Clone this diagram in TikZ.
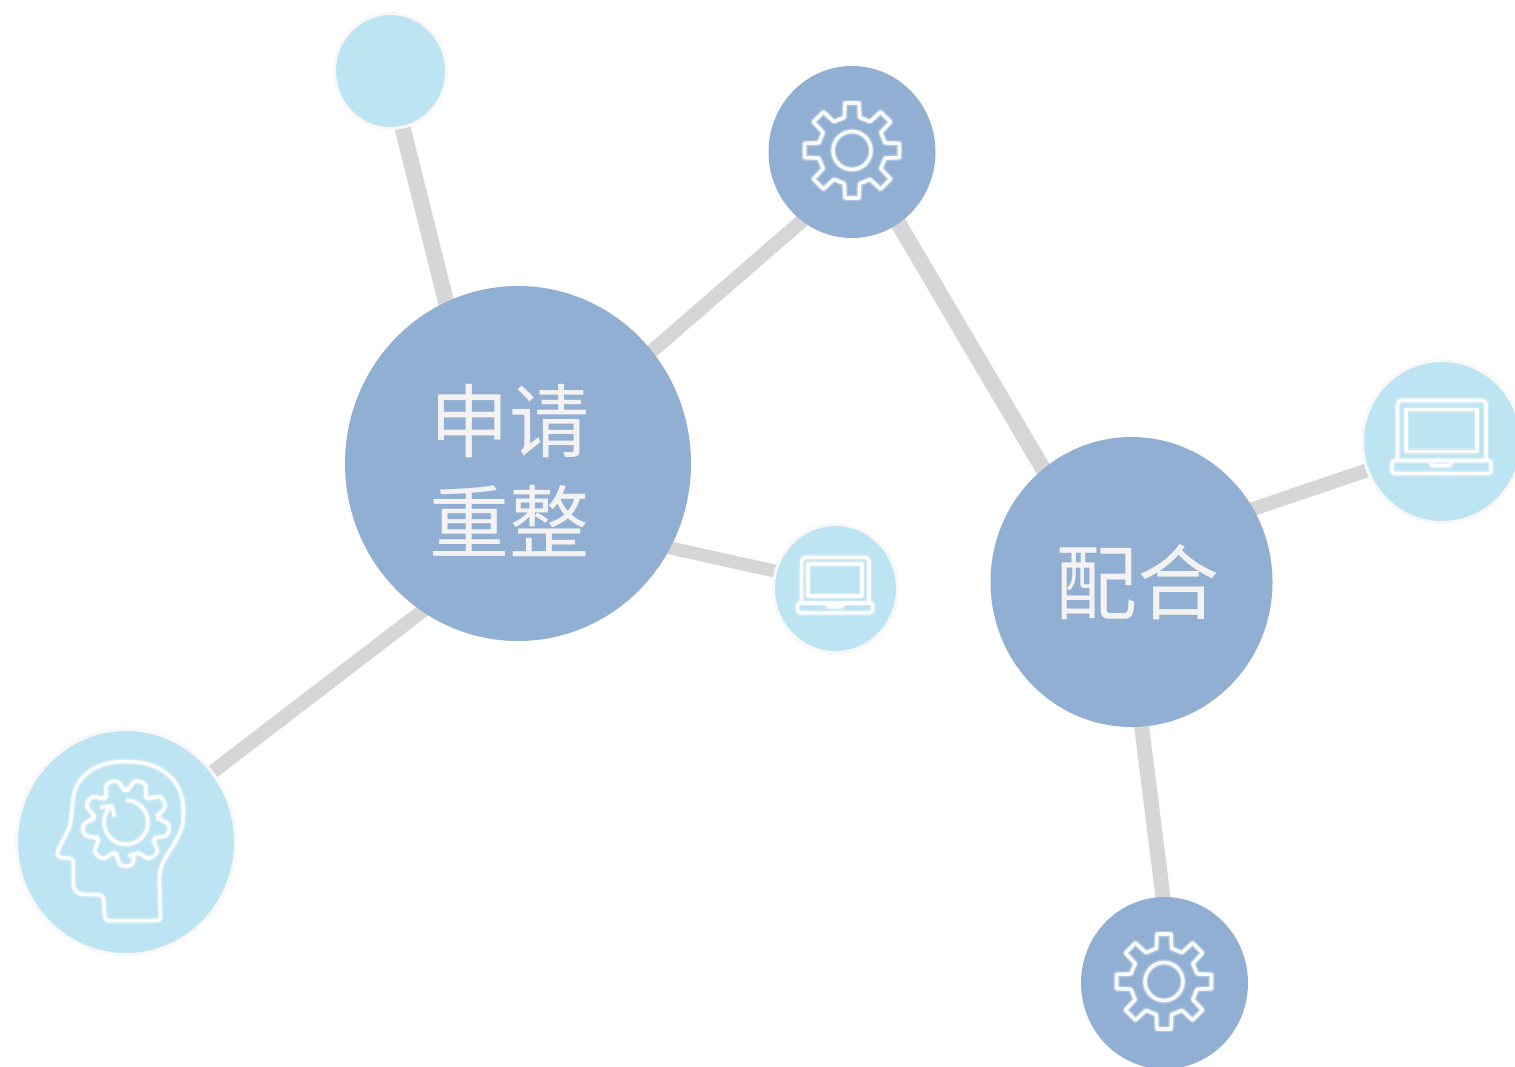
\documentclass[tikz,border=0pt]{standalone}
\usepackage{fontspec}
\newfontfamily\cjk{Noto Sans CJK SC}
\usetikzlibrary{shapes.geometric,backgrounds}
\definecolor{deepblue}{HTML}{90AFD3}
\definecolor{paleblue}{HTML}{BDE4F2}
\definecolor{linkgrey}{HTML}{D6D6D6}
\definecolor{halo}{HTML}{F8F8F8}
\definecolor{labeltext}{HTML}{F4F2F2}
\tikzset{
  x=1pt,y=-1pt,
  bigdot/.style={ellipse,inner sep=0pt,fill=deepblue},
  smalldot/.style={ellipse,inner sep=0pt,fill=paleblue,draw=halo,line width=3pt},
  link/.style={draw=linkgrey,line width=14pt,shorten >=-7pt,shorten <=-5pt},
  iconline/.style={draw=white,line width=3.6pt,line join=round,opacity=.92,
    preaction={draw=white,line width=6.5pt,line join=round,opacity=.25}},
  caption/.style={text=labeltext,align=center,inner sep=0pt},
  gearicon/.pic={
    \draw[iconline] (-13:34) \foreach \a in {0,45,...,315}{ -- (\a-13:34) -- (\a-8.5:48) -- (\a+8.5:48) -- (\a+13:34)} -- cycle;
    \draw[iconline] (0,0) circle[radius=19];
  },
  laptopicon/.pic={
    \draw[iconline,rounded corners=4pt] (-44.5,18) -- (-44.5,-41) -- (44,-41) -- (44,18);
    \draw[iconline] (-36,-32) rectangle (35,10);
    \draw[iconline] (-12,19) -- (-10,24) -- (8,24) -- (10,19);
    \draw[iconline,rounded corners=3pt] (-50,19) -- (49,19) -- (49,32) -- (-50,32) -- cycle;
  }
}
\begin{document}
\begin{tikzpicture}
\useasboundingbox (0,0) rectangle (1515,1066);

\node[bigdot,minimum width=346pt,minimum height=355pt] (apply) at (518,463.5) {};
\node[bigdot,minimum width=282pt,minimum height=290pt] (match) at (1131.5,582) {};
\node[bigdot,minimum width=167pt,minimum height=172pt] (gearA) at (852,152) {};
\node[bigdot,minimum width=167pt,minimum height=172pt] (gearB) at (1164.5,983) {};
\node[smalldot,minimum width=112pt,minimum height=115pt] (top) at (390.5,71) {};
\node[smalldot,minimum width=124pt,minimum height=128pt] (lapA) at (835.5,588.5) {};
\node[smalldot,minimum width=159pt,minimum height=162pt] (lapB) at (1442,441.5) {};
\node[smalldot,minimum width=219pt,minimum height=225pt] (head) at (126,842) {};

\begin{scope}[on background layer]
\fill[white] (0,0) rectangle (1515,1066);
\draw[link,line width=16pt] (apply.114) -- (top.-78);
\draw[link] (apply.40) -- (gearA.234);
\draw[link,line width=16pt] (gearA.-57) -- (match.128);
\draw[link] (match.31) -- (lapB.201);
\draw[link,line width=15pt] (match.-86) -- (gearB.91);
\draw[link,line width=13pt] (apply.-29) -- (lapA.164);
\draw[link] (apply.237) -- (head.39);
\end{scope}

\node[caption,font=\cjk\fontsize{80pt}{101pt}\selectfont] (applytext) at (509,471) {申请\\重整};
\node[caption,font=\cjk\fontsize{82pt}{90pt}\selectfont] (matchtext) at (1137,582) {配合};

\pic at (852,150.5) {gearicon};
\pic at (1164,981.5) {gearicon};
\pic at (1442,441.5) {laptopicon};
\pic[scale=.76] at (835.5,588.5) {laptopicon};

\begin{scope}[shift={(20,730)},scale=1/3]
\draw[iconline,rounded corners=4pt] (255,572) -- (250,495) -- (175,492) -- (160,475) -- (160,385) -- (112,382) -- (112,365) -- (150,290) -- (158,220)
  .. controls (165,140) and (230,95) .. (315,95)
  .. controls (420,95) and (490,150) .. (490,250)
  .. controls (490,330) and (420,380) .. (418,450)
  -- (422,572) -- cycle;
\draw[iconline,rounded corners=5pt,shift={(318,278)}] (76:98)
  \foreach \a in {90,130,...,410}{ -- (\a-15:98) -- (\a-9:132) -- (\a+9:132) -- (\a+15:98)} -- cycle;
\draw[iconline,shift={(318,277)}] (-90:66) arc[start angle=-90,end angle=223,radius=66];
\draw[iconline] (240,232) -- (275,228) -- (285,262);
\end{scope}
\end{tikzpicture}
\end{document}
